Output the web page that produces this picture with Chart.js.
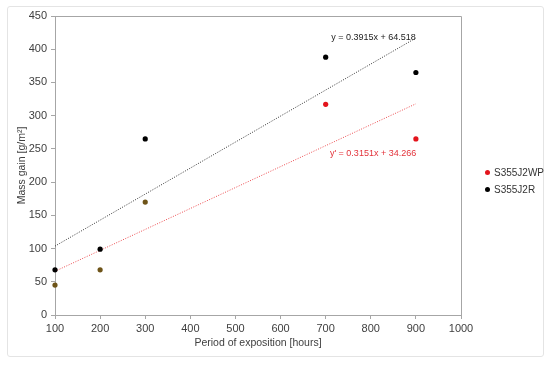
<!DOCTYPE html>
<html>
<head>
<meta charset="utf-8">
<script src="https://cdn.jsdelivr.net/npm/chart.js@4.4.1/dist/chart.umd.min.js"></script>
<style>
  body { margin:0; background:#fff; font-family:"Liberation Sans", Arial, sans-serif; }
  #wrap { position:relative; width:550px; height:365px; }
  #frame { position:absolute; left:7px; top:6px; width:535px; height:349px; border:1px solid #e4e4e4; border-radius:3px; }
  .leg { position:absolute; left:485px; font-size:10px; color:#333; }
  .leg i { display:inline-block; width:5px; height:5px; border-radius:50%; margin-right:4px; vertical-align:middle; position:relative; top:-1px; }
</style>
</head>
<body>
<div id="wrap">
  <div id="frame"></div>
  <canvas id="c" width="550" height="365"></canvas>
  <div class="leg" style="top:167px"><i style="background:#e3141c"></i>S355J2WP</div>
  <div class="leg" style="top:184px"><i style="background:#000"></i>S355J2R</div>
</div>
<script>
const hours = [100, 200, 300, 700, 900];
const wpGain = [45, 68, 170, 317, 265];   // S355J2WP
const rGain  = [68, 99, 265, 388, 365];   // S355J2R
const wpPointColors = ['#6e5418', '#6e5418', '#6e5418', '#e3141c', '#e3141c'];
const xTicks = [100, 200, 300, 400, 500, 600, 700, 800, 900, 1000];
const yTicks = [0, 50, 100, 150, 200, 250, 300, 350, 400, 450];
// trendline coefficients as printed on the chart
const trendR  = { a: 0.3915, b: 64.518, label: 'y = 0.3915x + 64.518' };
const trendWP = { a: 0.3151, b: 34.266, label: "y' = 0.3151x + 34.266" };
const trendX  = [100, 900];

const pts = (xs, ys) => xs.map((x, i) => ({ x, y: ys[i] }));
const line = t => trendX.map(x => ({ x, y: t.a * x + t.b }));

const boxPlugin = {
  id: 'box',
  afterDraw(chart) {
    const { ctx, chartArea: a, scales } = chart;
    ctx.save();
    ctx.strokeStyle = '#a6a6a6';
    ctx.lineWidth = 1;
    ctx.beginPath();
    ctx.moveTo(a.left, a.top + 0.5);
    ctx.lineTo(a.right + 0.5, a.top + 0.5);
    ctx.lineTo(a.right + 0.5, a.bottom);
    ctx.stroke();
    ctx.font = '9px "Liberation Sans", Arial, sans-serif';
    ctx.textAlign = 'center';
    ctx.textBaseline = 'middle';
    ctx.fillStyle = '#222';
    ctx.fillText(trendR.label, scales.x.getPixelForValue(806), scales.y.getPixelForValue(417));
    ctx.fillStyle = '#e3323a';
    ctx.fillText(trendWP.label, scales.x.getPixelForValue(805), scales.y.getPixelForValue(243));
    ctx.restore();
  }
};

new Chart(document.getElementById('c'), {
  type: 'scatter',
  data: {
    datasets: [
      { label: 'S355J2WP', data: pts(hours, wpGain), pointBackgroundColor: wpPointColors, pointBorderWidth: 0, pointRadius: 2.6, clip: false },
      { label: 'S355J2R', data: pts(hours, rGain), pointBackgroundColor: '#000', pointBorderWidth: 0, pointRadius: 2.6, clip: false },
      { type: 'line', label: 'trend R', data: line(trendR), borderColor: '#333', borderWidth: 1, borderDash: [1, 1.5], pointRadius: 0 },
      { type: 'line', label: 'trend WP', data: line(trendWP), borderColor: '#ec4a4e', borderWidth: 1, borderDash: [1, 1.5], pointRadius: 0 },
    ],
  },
  options: {
    responsive: false,
    animation: false,
    layout: { padding: { top: 16, right: 89, left: 12, bottom: 0 } },
    plugins: { legend: { display: false }, tooltip: { enabled: false } },
    scales: {
      x: {
        type: 'linear', min: 100, max: 1000,
        afterBuildTicks: s => { s.ticks = xTicks.map(v => ({ value: v })); },
        afterFit: s => { s.height = 50; },
        grid: { drawOnChartArea: false, color: '#a6a6a6', tickLength: 4 },
        border: { color: '#a6a6a6' },
        ticks: { color: '#404040', font: { size: 11 }, padding: 3, maxRotation: 0, callback: v => String(v) },
        title: { display: true, text: 'Period of exposition [hours]', color: '#404040', font: { size: 10.5 }, padding: { top: 0, bottom: 16 } },
      },
      y: {
        type: 'linear', min: 0, max: 450,
        afterBuildTicks: s => { s.ticks = yTicks.map(v => ({ value: v })); },
        afterFit: s => { s.width = 43; },
        grid: { drawOnChartArea: false, color: '#a6a6a6', tickLength: 4 },
        border: { color: '#a6a6a6' },
        ticks: { color: '#404040', font: { size: 11 }, padding: 4, callback: v => String(v) },
        title: { display: true, text: 'Mass gain [g/m²]', color: '#404040', font: { size: 10.5 }, padding: { top: 4, bottom: 0 } },
      },
    },
  },
  plugins: [boxPlugin],
});
</script>
</body>
</html>
